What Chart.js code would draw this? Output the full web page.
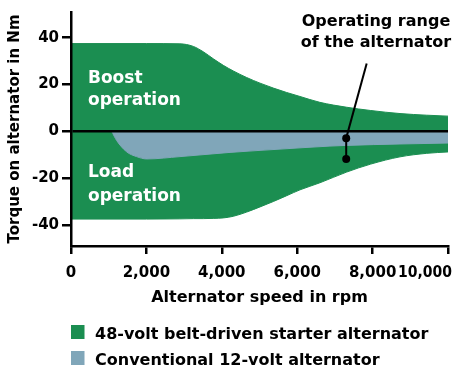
<!DOCTYPE html>
<html>
<head>
<meta charset="utf-8">
<script src="https://cdn.jsdelivr.net/npm/chart.js@4.4.1/dist/chart.umd.min.js"></script>
<style>
  html, body { margin: 0; padding: 0; background: #fff; }
  #wrap { width: 454px; height: 367px; }
</style>
</head>
<body>
<div id="wrap"><canvas id="torqueChart"></canvas></div>
<script>
// 48 V starter alternator envelope (rpm / Nm)
const speedRpm = [0, 2000, 2890, 3244, 3509, 3775, 4040, 4305, 4660, 5013, 5366, 5721, 6074, 6600, 7313, 7950, 8727, 9435, 10000];
const boostTorque = [37.5, 37.5, 37.4, 36.3, 34.0, 31.0, 28.2, 25.8, 23.0, 20.6, 18.5, 16.6, 14.9, 12.4, 10.3, 8.9, 7.6, 6.9, 6.5];
const loadTorque = [-37.5, -37.5, -37.4, -37.3, -37.3, -37.2, -37.0, -36.3, -34.5, -32.3, -30.0, -27.5, -25.0, -22.0, -17.4, -14.0, -10.9, -9.4, -8.8];

// conventional 12 V alternator (load only)
const speed12V = [1080, 1210, 1476, 1740, 2008, 2891, 4218, 5544, 6870, 7313, 8727, 10000];
const torque12V = [0, -3.9, -8.75, -10.8, -11.8, -10.8, -9.0, -7.6, -6.3, -6.0, -5.4, -5.0];

// "operating range" marker
const rangeSpeed = [7300, 7300];
const rangeTorque = [-2.9, -11.8];
const pointerSpeed = [7300, 7843];
const pointerTorque = [-2.9, 29];

const xTicks = [0, 2000, 4000, 6000, 8000, 10000];
const xTickLabels = ['0', '2,000', '4,000', '6,000', '8,000', '10,000'];
const yTicks = [-40, -20, 0, 20, 40];
const seriesNames = ['48-volt belt-driven starter alternator', 'Conventional 12-volt alternator'];

const GREEN = '#1b8e51';
const BLUE = '#80a6b9';
const FONT = '"DejaVu Sans", sans-serif';

const toPoints = (xs, ys) => xs.map((v, i) => ({ x: v, y: ys[i] }));

// draws x tick labels, region labels, callout text and the legend
const overlay = {
    id: 'overlay',
    afterDraw(chart) {
        const { ctx, scales: { x, y } } = chart;
        ctx.save();
        ctx.textBaseline = 'alphabetic';

        // x tick labels (last one kept inside the canvas)
        ctx.fillStyle = '#000';
        ctx.font = 'bold 15px ' + FONT;
        ctx.textAlign = 'center';
        xTicks.forEach((v, i) => {
            const w = Math.min(ctx.measureText(xTickLabels[i]).width, 54);
            let cx = x.getPixelForValue(v);
            cx = Math.min(cx, chart.width - 2 - w / 2);
            ctx.fillText(xTickLabels[i], cx, x.top + 30.7, 54);
        });

        // region labels
        ctx.fillStyle = '#fff';
        ctx.font = 'bold 17px ' + FONT;
        ctx.textAlign = 'left';
        const lx = x.getPixelForValue(450);
        ctx.fillText('Boost', lx, y.getPixelForValue(20.7));
        ctx.fillText('operation', lx, y.getPixelForValue(11.4));
        ctx.fillText('Load', lx, y.getPixelForValue(-19.6));
        ctx.fillText('operation', lx, y.getPixelForValue(-29.6));

        // callout text
        ctx.fillStyle = '#000';
        ctx.font = 'bold 16px ' + FONT;
        ctx.textAlign = 'center';
        const cx = x.getPixelForValue(8090);
        ctx.fillText('Operating range', cx, 26);
        ctx.fillText('of the alternator', cx, 47);

        // legend
        const items = [
            { text: seriesNames[0], color: chart.data.datasets[3].backgroundColor, top: 325 },
            { text: seriesNames[1], color: chart.data.datasets[2].backgroundColor, top: 351 }
        ];
        ctx.textAlign = 'left';
        items.forEach(it => {
            ctx.fillStyle = it.color;
            ctx.fillRect(x.left, it.top, 13.5, 14);
            ctx.fillStyle = '#000';
            ctx.fillText(it.text, x.left + 24, it.top + 13.5);
        });
        ctx.restore();
    }
};

new Chart(document.getElementById('torqueChart'), {
    type: 'line',
    data: {
        datasets: [
            {
                label: 'range',
                data: toPoints(rangeSpeed, rangeTorque),
                borderColor: '#000',
                borderWidth: 2,
                pointRadius: 4,
                pointBackgroundColor: '#000',
                pointBorderWidth: 0,
                fill: false
            },
            {
                label: 'pointer',
                data: toPoints(pointerSpeed, pointerTorque),
                borderColor: '#000',
                borderWidth: 2,
                pointRadius: 0,
                fill: false
            },
            {
                label: seriesNames[1],
                data: toPoints(speed12V, torque12V),
                borderColor: BLUE,
                backgroundColor: BLUE,
                borderWidth: 1,
                pointRadius: 0,
                cubicInterpolationMode: 'monotone',
                fill: 'origin'
            },
            {
                label: seriesNames[0],
                data: toPoints(speedRpm, boostTorque),
                borderColor: GREEN,
                backgroundColor: GREEN,
                borderWidth: 1,
                pointRadius: 0,
                cubicInterpolationMode: 'monotone',
                fill: '+1'
            },
            {
                label: 'load edge',
                data: toPoints(speedRpm, loadTorque),
                borderColor: GREEN,
                backgroundColor: GREEN,
                borderWidth: 1,
                pointRadius: 0,
                cubicInterpolationMode: 'monotone',
                fill: false
            }
        ]
    },
    options: {
        responsive: true,
        maintainAspectRatio: false,
        animation: false,
        layout: { padding: { top: 8, right: 6, bottom: 60, left: 0 } },
        plugins: {
            legend: { display: false },
            tooltip: { enabled: false }
        },
        scales: {
            x: {
                type: 'linear',
                min: 0,
                max: 10000,
                afterBuildTicks: s => { s.ticks = xTicks.map(v => ({ value: v })); },
                afterFit: s => { s.height = 61; },
                ticks: { display: false },
                grid: { drawOnChartArea: false, color: '#000', lineWidth: 2.5, tickLength: 8 },
                border: { color: '#000', width: 2.5, z: 1 },
                title: {
                    display: true,
                    text: 'Alternator speed in rpm',
                    color: '#000',
                    font: { family: FONT, size: 16, weight: 'bold' },
                    padding: { top: 0, bottom: 0 }
                }
            },
            y: {
                min: -49,
                max: 51,
                afterBuildTicks: s => { s.ticks = yTicks.map(v => ({ value: v })); },
                afterFit: s => { s.width = 71; },
                ticks: {
                    color: '#000',
                    padding: 3,
                    font: { family: FONT, size: 15, weight: 'bold' }
                },
                grid: {
                    z: 1,
                    color: c => (c.tick && c.tick.value === 0 ? '#000' : 'rgba(0,0,0,0)'),
                    tickColor: '#000',
                    lineWidth: 2.5,
                    tickLength: 9
                },
                border: { color: '#000', width: 2.5, z: 1 },
                title: {
                    display: true,
                    text: 'Torque on alternator in Nm',
                    color: '#000',
                    font: { family: FONT, size: 15, weight: 'bold' },
                    padding: { top: 6, bottom: 0 }
                }
            }
        }
    },
    plugins: [overlay]
});
</script>
</body>
</html>
